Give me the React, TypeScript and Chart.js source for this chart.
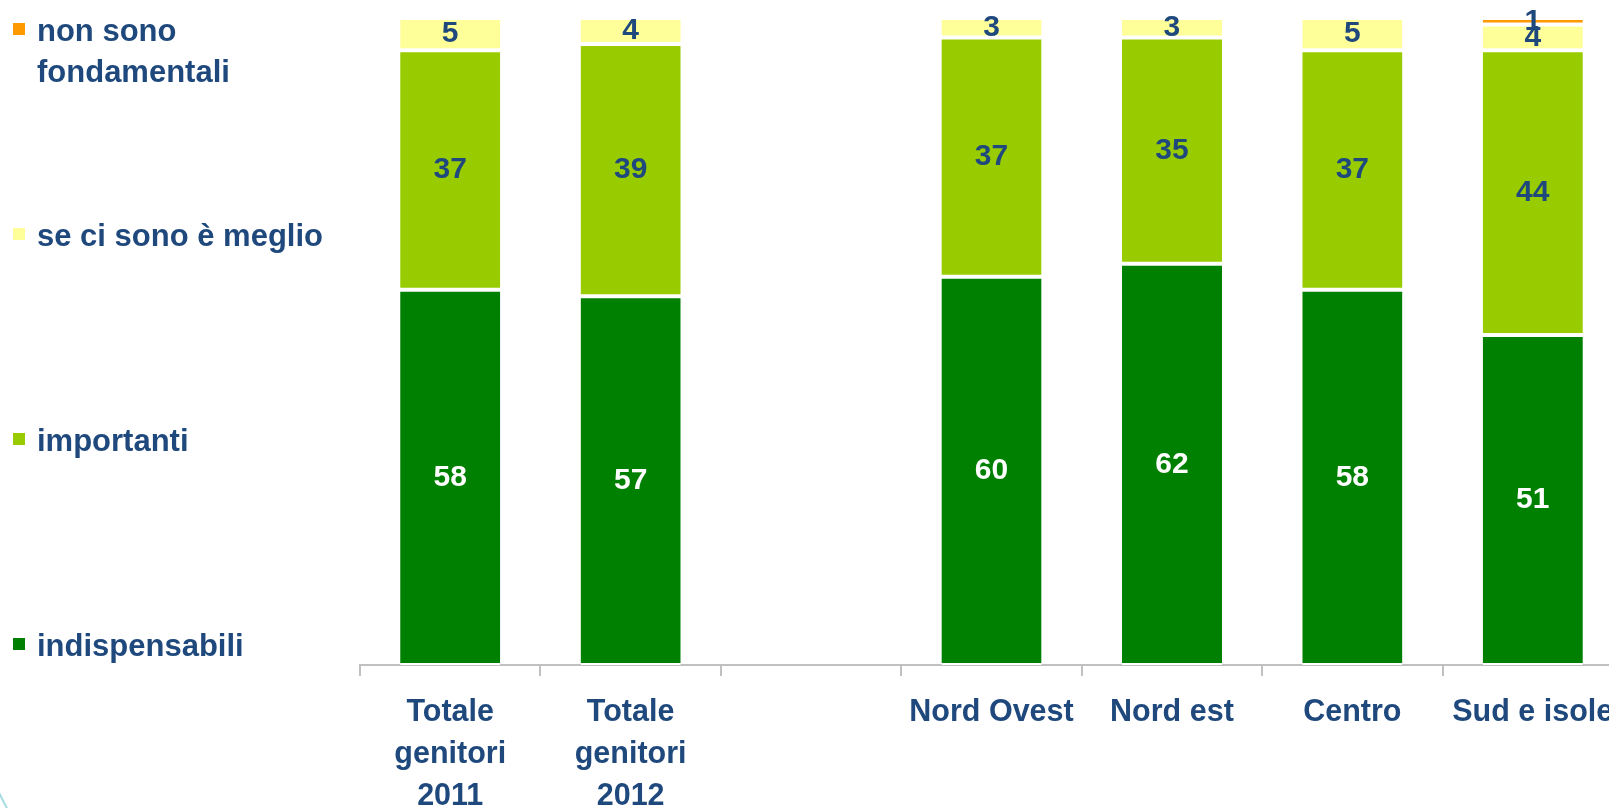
import React, { useEffect, useRef } from "react";
import { Chart, registerables } from "chart.js";

Chart.register(...registerables);

// ---- data ----
const categories: (string | string[])[] = [
  ["Totale", "genitori", "2011"],
  ["Totale", "genitori", "2012"],
  "",
  "Nord Ovest",
  "Nord est",
  "Centro",
  "Sud e isole",
];
const seriesNames = ["indispensabili", "importanti", "se ci sono è meglio", "non sono fondamentali"];
const indispensabili = [58, 57, null, 60, 62, 58, 51];
const importanti = [37, 39, null, 37, 35, 37, 44];
const seCiSonoMeglio = [5, 4, null, 3, 3, 5, 4];
const nonFondamentali = [null, null, null, null, null, null, 1];
const seriesColors = ["#008000", "#99CC00", "#FFFF99", "#FF9900"];
const yMin = 0;
const yMax = 100;

const FONT = "'Liberation Sans', Arial, Helvetica, sans-serif";
const TEXT_BLUE = "#1F497D";

const segLabels = {
  id: "segLabels",
  afterDatasetsDraw(chart: any) {
    const ctx = chart.ctx;
    ctx.save();
    ctx.font = `bold 30px ${FONT}`;
    ctx.textAlign = "center";
    ctx.textBaseline = "middle";
    chart.data.datasets.forEach((ds: any, di: number) => {
      const meta = chart.getDatasetMeta(di);
      meta.data.forEach((el: any, i: number) => {
        const v = ds.data[i];
        if (v == null) return;
        const p = el.getProps(["x", "y", "base"], true);
        ctx.fillStyle = di === 0 ? "#FFFFFF" : TEXT_BLUE;
        ctx.fillText(String(v), p.x, (p.y + p.base) / 2);
      });
    });
    ctx.restore();
  },
};

export default function App() {
  const ref = useRef<HTMLCanvasElement>(null);

  useEffect(() => {
    const all = [indispensabili, importanti, seCiSonoMeglio, nonFondamentali];
    const chart = new Chart(ref.current!, {
      type: "bar",
      data: {
        labels: categories,
        datasets: all.map((d, i) => ({
          label: seriesNames[i],
          data: d,
          backgroundColor: seriesColors[i],
          borderColor: "#FFFFFF",
          borderWidth: { top: 2, bottom: 2, left: 0, right: 0 },
          borderSkipped: false,
          categoryPercentage: 1,
          barPercentage: 0.555,
        })),
      },
      options: {
        responsive: false,
        animation: false,
        devicePixelRatio: 1,
        layout: { padding: { left: 360, right: 17, top: 18, bottom: 6 } },
        plugins: { legend: { display: false }, tooltip: { enabled: false } },
        scales: {
          x: {
            stacked: true,
            grid: {
              display: true,
              drawOnChartArea: false,
              drawTicks: true,
              tickLength: 11,
              color: "#C0C0C0",
              lineWidth: 2,
              offset: true,
            },
            border: { display: true, color: "#C0C0C0", width: 2 },
            ticks: {
              autoSkip: false,
              maxRotation: 0,
              minRotation: 0,
              padding: 16,
              color: TEXT_BLUE,
              font: { family: FONT, size: 30.5, weight: "bold", lineHeight: 42 / 30.5 },
            },
          },
          y: {
            stacked: true,
            display: false,
            min: yMin,
            max: yMax,
          },
        },
      },
      plugins: [segLabels],
    } as any);
    return () => chart.destroy();
  }, []);

  const legendTops = [10, 215, 420, 625];
  const legendOrder = [3, 2, 1, 0];

  return (
    <div
      style={{
        position: "fixed",
        left: 0,
        top: 0,
        width: 1609,
        height: 808,
        overflow: "hidden",
        background: "#FFFFFF",
      }}
    >
      <canvas ref={ref} width={1640} height={840} style={{ position: "absolute", left: 0, top: 0 }} />
      {legendOrder.map((si, k) => (
        <div
          key={si}
          style={{
            position: "absolute",
            left: 0,
            top: legendTops[k],
            width: 340,
          }}
        >
          <div
            style={{
              position: "absolute",
              left: 13,
              top: 13,
              width: 12,
              height: 12,
              background: seriesColors[si],
            }}
          />
          <div
            style={{
              marginLeft: 37,
              width: 300,
              fontFamily: FONT,
              fontWeight: "bold",
              fontSize: 31,
              lineHeight: "41px",
              color: TEXT_BLUE,
            }}
          >
            {seriesNames[si]}
          </div>
        </div>
      ))}
      <div style={{ position: "absolute", left: 0, top: 790, width: 20, height: 18, overflow: "hidden" }}>
        <div
          style={{
            position: "absolute",
            left: 300 - 334,
            top: 650 - 334 - 790,
            width: 668,
            height: 668,
            borderRadius: "50%",
            border: "2px solid #A8DCE2",
            boxSizing: "border-box",
          }}
        />
      </div>
    </div>
  );
}
